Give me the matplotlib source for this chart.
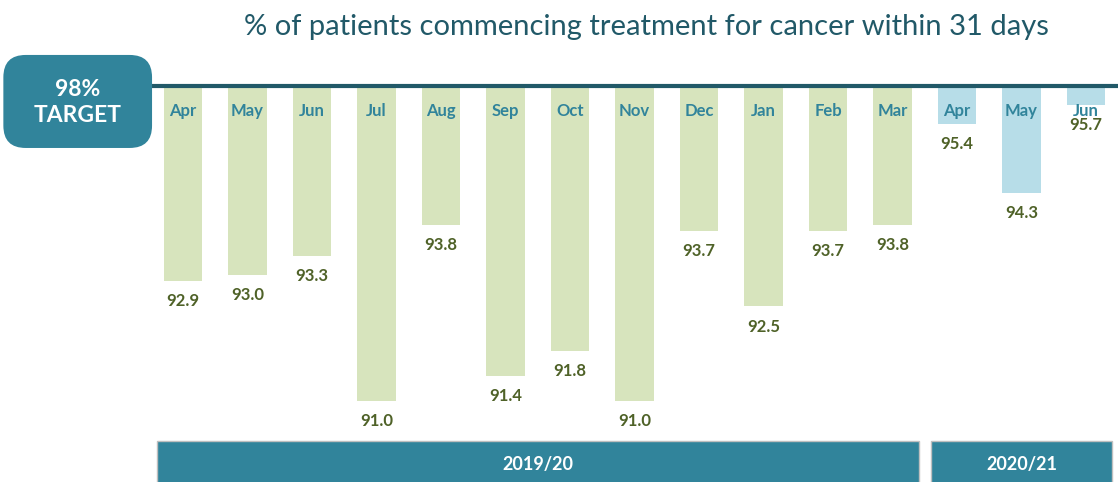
import matplotlib.pyplot as plt
from matplotlib.patches import FancyBboxPatch, Rectangle

plt.rcParams['font.family'] = ['Lato', 'DejaVu Sans']

# monthly % within 31 days
months = ['Apr', 'May', 'Jun', 'Jul', 'Aug', 'Sep', 'Oct', 'Nov', 'Dec', 'Jan', 'Feb', 'Mar',
          'Apr', 'May', 'Jun']
values = [92.9, 93.0, 93.3, 91.0, 93.8, 91.4, 91.8, 91.0, 93.7, 92.5, 93.7, 93.8,
          95.4, 94.3, 95.7]
years = ['2019/20', '2020/21']
year_counts = [12, 3]
year_colors = ['#d7e4bd', '#b7dde8']
base = 96.0
target = '98%\nTARGET'

teal = '#31849b'
dark = '#215968'
olive = '#4f6228'

fig = plt.figure(figsize=(11.18, 4.82), dpi=100)
ax = fig.add_axes([0, 0, 1, 1])
ax.set_xlim(-2.837, 14.496)
ax.set_ylim(89.714, 97.365)
ax.axis('off')

colors = []
for c, n in zip(year_colors, year_counts):
    colors += [c] * n

x = list(range(len(values)))
ax.bar(x, [v - base for v in values], bottom=base, width=0.6, color=colors, zorder=1)

# target line
ax.plot([-0.5, 14.6], [base, base], color=dark, lw=3, zorder=3, solid_capstyle='butt')

for i, (m, v) in enumerate(zip(months, values)):
    ax.text(i, base - 0.4, m, ha='center', va='center', color=teal,
            fontsize=12, fontweight='bold', zorder=4)
    ax.text(i, v - 0.32, f'{v:.1f}', ha='center', va='center', color=olive,
            fontsize=12, fontweight='bold', zorder=4)

# target box
box = FancyBboxPatch((0.003, 0.693), 0.133, 0.193, boxstyle='round,pad=0,rounding_size=0.02',
                     transform=fig.transFigure, facecolor=teal, edgecolor='none', zorder=5,
                     mutation_aspect=1118 / 482)
fig.patches.append(box)
fig.text(0.0695, 0.788, target, ha='center', va='center', color='white', fontsize=16.5,
         fontweight='bold', linespacing=1.3, zorder=6)

# year bands
start = -0.41
for yr, n in zip(years, year_counts):
    x0 = start
    x1 = start + n - 0.18
    ax.add_patch(Rectangle((x0, 89.6), x1 - x0, 0.765, facecolor=teal, edgecolor='#bfbfbf',
                           lw=1, zorder=2))
    ax.text((x0 + x1) / 2, 89.99, yr, ha='center', va='center', color='white',
            fontsize=13, fontweight='bold', zorder=4)
    start = start + n

fig.text(0.578, 0.945, '% of patients commencing treatment for cancer within 31 days',
         ha='center', va='center', color=dark, fontsize=21)

fig.savefig('out.png', dpi=100)
